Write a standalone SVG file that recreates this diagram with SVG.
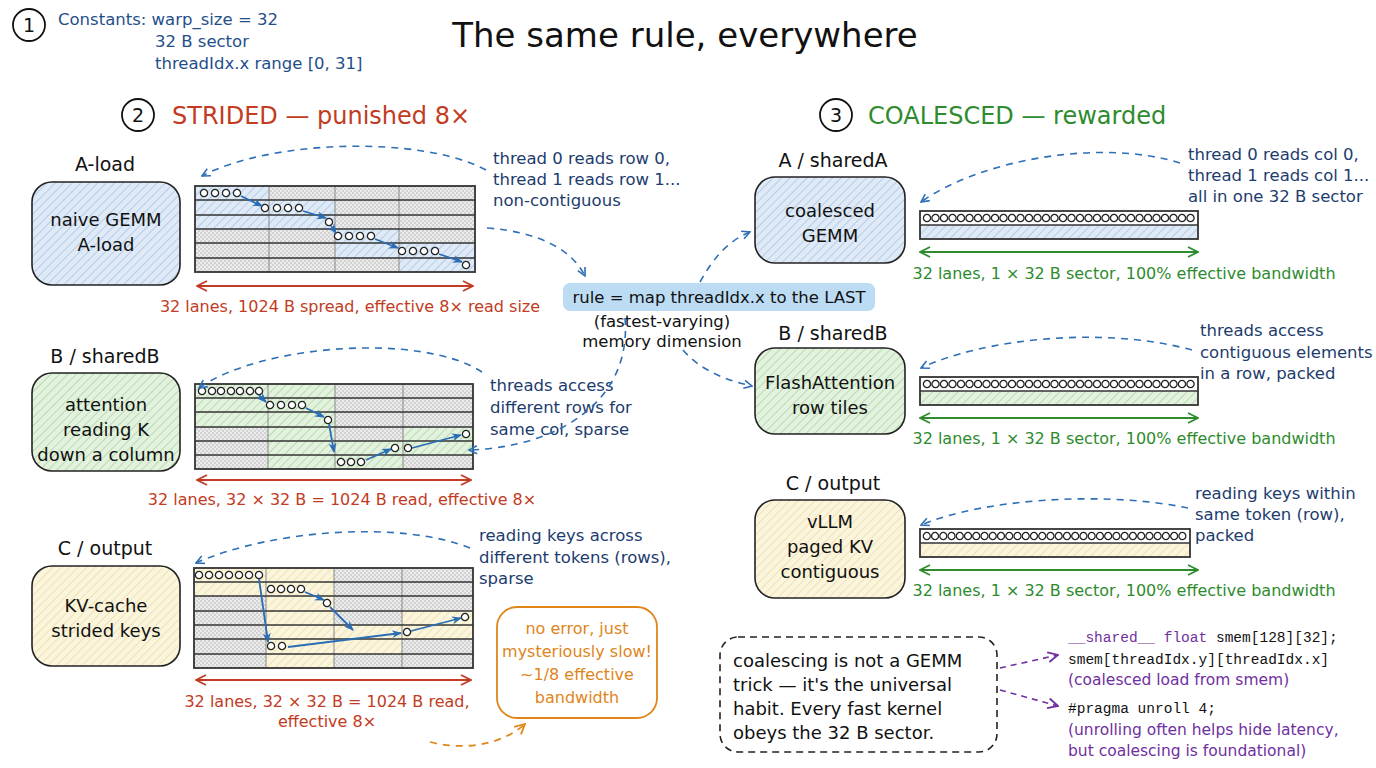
<svg xmlns="http://www.w3.org/2000/svg" width="1376" height="768" viewBox="0 0 1376 768">
<defs>
<style>
text{font-family:"DejaVu Sans","Liberation Sans",sans-serif;}
.title{font-size:34px;fill:#111;}
.ann{font-size:16.5px;fill:#1d3c6e;}
.const{font-size:16.5px;fill:#1f4f8a;}
.red{font-size:16px;fill:#c23b22;}
.grn{font-size:16px;fill:#2e8b2e;}
.lbl{font-size:19px;fill:#111;}
.ntx{font-size:18px;fill:#111;text-anchor:middle;}
.head{font-size:24px;}
.mono{font-family:"Liberation Mono","DejaVu Sans Mono",monospace;font-size:14.5px;fill:#111;}
.pur{fill:#7030a0;}
.pt{font-size:15.5px;fill:#7030a0;}
.node{stroke:#222;stroke-width:1.6;}
.rowl{stroke:#333;stroke-width:1.6;}
.coll{stroke:#888;stroke-width:1;}
.dash{fill:none;stroke:#2f6fb5;stroke-width:1.6;stroke-dasharray:7 6;marker-end:url(#open);}
.garr{fill:none;stroke:#2a6db5;stroke-width:1.8;marker-end:url(#fill);}
.circ{fill:#fff;stroke:#222;stroke-width:1.3;}
</style>
<pattern id="hB" patternUnits="userSpaceOnUse" width="6" height="6" patternTransform="rotate(45)">
<rect width="6" height="6" fill="#dfeaf6"/><line x1="0" y1="0" x2="0" y2="6" stroke="#a9c6e6" stroke-width="1.6"/>
</pattern>
<pattern id="hG" patternUnits="userSpaceOnUse" width="6" height="6" patternTransform="rotate(45)">
<rect width="6" height="6" fill="#e3f2de"/><line x1="0" y1="0" x2="0" y2="6" stroke="#aed6a4" stroke-width="1.6"/>
</pattern>
<pattern id="hY" patternUnits="userSpaceOnUse" width="6" height="6" patternTransform="rotate(45)">
<rect width="6" height="6" fill="#fbf5dd"/><line x1="0" y1="0" x2="0" y2="6" stroke="#eadfa8" stroke-width="1.6"/>
</pattern>
<pattern id="chk" patternUnits="userSpaceOnUse" width="4" height="4">
<rect width="4" height="4" fill="#ececec"/><rect width="2" height="2" fill="#d2d2d2"/><rect x="2" y="2" width="2" height="2" fill="#d2d2d2"/>
</pattern>
<marker id="open" viewBox="0 0 10 10" refX="9" refY="5" markerWidth="10" markerHeight="10" orient="auto" markerUnits="userSpaceOnUse">
<path d="M1,1 L9,5 L1,9" fill="none" stroke="#2f6fb5" stroke-width="1.6"/>
</marker>
<marker id="fill" viewBox="0 0 10 10" refX="9" refY="5" markerWidth="10" markerHeight="10" orient="auto" markerUnits="userSpaceOnUse">
<path d="M0,1 L10,5 L0,9 L3,5 z" fill="#2a6db5"/>
</marker>
<marker id="redA" viewBox="0 0 12 12" refX="11" refY="6" markerWidth="12" markerHeight="12" orient="auto-start-reverse" markerUnits="userSpaceOnUse">
<path d="M1,1 L11,6 L1,11" fill="none" stroke="#c23b22" stroke-width="1.8"/>
</marker>
<marker id="grnA" viewBox="0 0 12 12" refX="11" refY="6" markerWidth="12" markerHeight="12" orient="auto-start-reverse" markerUnits="userSpaceOnUse">
<path d="M1,1 L11,6 L1,11" fill="none" stroke="#2e8b2e" stroke-width="1.8"/>
</marker>
<marker id="orA" viewBox="0 0 12 12" refX="11" refY="6" markerWidth="12" markerHeight="12" orient="auto" markerUnits="userSpaceOnUse">
<path d="M1,1 L11,6 L1,11" fill="none" stroke="#e0851a" stroke-width="1.8"/>
</marker>
<marker id="puA" viewBox="0 0 12 12" refX="11" refY="6" markerWidth="12" markerHeight="12" orient="auto" markerUnits="userSpaceOnUse">
<path d="M1,1 L11,6 L1,11" fill="none" stroke="#7030a0" stroke-width="1.8"/>
</marker>
<circle id="c" r="3.6" class="circ"/>
</defs>
<rect width="1376" height="768" fill="#ffffff"/>

<!-- Header -->
<g id="header">
<circle cx="29" cy="25" r="16" fill="none" stroke="#111" stroke-width="1.8"/>
<text x="29" y="32" font-size="19" text-anchor="middle" fill="#111">1</text>
<text class="const" x="58" y="25">Constants: warp_size = 32</text>
<text class="const" x="155" y="47">32 B sector</text>
<text class="const" x="155" y="69">threadIdx.x range [0, 31]</text>
<text class="title" x="685" y="47" text-anchor="middle">The same rule, everywhere</text>
</g>

<g id="sec2">
<circle cx="138" cy="115" r="16" fill="none" stroke="#111" stroke-width="1.8"/>
<text x="138" y="122" font-size="19" text-anchor="middle" fill="#111">2</text>
<text class="head" x="172" y="124" fill="#c23b22">STRIDED — punished 8×</text>
</g>
<g id="sec3">
<circle cx="836" cy="115" r="16" fill="none" stroke="#111" stroke-width="1.8"/>
<text x="836" y="122" font-size="19" text-anchor="middle" fill="#111">3</text>
<text class="head" x="868" y="124" fill="#2e8b2e">COALESCED — rewarded</text>
</g>

<!-- Left nodes -->
<g id="nodeA-load">
<text class="lbl" x="105" y="171" text-anchor="middle">A-load</text>
<rect class="node" x="32" y="182" width="148" height="103" rx="20" fill="url(#hB)"/>
<text class="ntx" x="106" y="226">naive GEMM</text>
<text class="ntx" x="106" y="251">A-load</text>
</g>
<g id="nodeB-attn">
<text class="lbl" x="105" y="363" text-anchor="middle">B / sharedB</text>
<rect class="node" x="32" y="373" width="148" height="98" rx="20" fill="url(#hG)"/>
<text class="ntx" x="106" y="411">attention</text>
<text class="ntx" x="106" y="436">reading K</text>
<text class="ntx" x="106" y="461">down a column</text>
</g>
<g id="nodeC-kv">
<text class="lbl" x="105" y="555" text-anchor="middle">C / output</text>
<rect class="node" x="32" y="566" width="148" height="100" rx="20" fill="url(#hY)"/>
<text class="ntx" x="106" y="612">KV-cache</text>
<text class="ntx" x="106" y="637">strided keys</text>
</g>

<!-- Grid A -->
<g id="gridA">
<rect x="195" y="186" width="74" height="14" fill="url(#hB)"/>
<rect x="269" y="186" width="206" height="14" fill="url(#chk)"/>
<rect x="195" y="200" width="140" height="29" fill="url(#hB)"/>
<rect x="335" y="200" width="140" height="29" fill="url(#chk)"/>
<rect x="195" y="229" width="140" height="43" fill="url(#chk)"/>
<rect x="335" y="229" width="64" height="14" fill="url(#hB)"/>
<rect x="399" y="229" width="76" height="14" fill="url(#chk)"/>
<rect x="335" y="243" width="140" height="15" fill="url(#hB)"/>
<rect x="335" y="258" width="64" height="14" fill="url(#chk)"/>
<rect x="399" y="258" width="76" height="14" fill="url(#hB)"/>
<g class="coll"><line x1="269" y1="186" x2="269" y2="272"/><line x1="335" y1="186" x2="335" y2="272"/><line x1="399" y1="186" x2="399" y2="272"/></g>
<g class="rowl"><line x1="195" y1="200" x2="475" y2="200"/><line x1="195" y1="215" x2="475" y2="215"/><line x1="195" y1="229" x2="475" y2="229"/><line x1="195" y1="243" x2="475" y2="243"/><line x1="195" y1="258" x2="475" y2="258"/></g>
<rect x="195" y="186" width="280" height="86" fill="none" stroke="#333" stroke-width="1.8"/>
<use href="#c" x="204" y="193"/><use href="#c" x="215" y="193"/><use href="#c" x="226" y="193"/><use href="#c" x="237" y="193"/>
<use href="#c" x="265" y="208"/><use href="#c" x="277" y="208"/><use href="#c" x="288" y="208"/><use href="#c" x="299" y="208"/>
<use href="#c" x="329" y="222"/>
<use href="#c" x="338" y="236"/><use href="#c" x="349" y="236"/><use href="#c" x="360" y="236"/><use href="#c" x="371" y="236"/>
<use href="#c" x="402" y="251"/><use href="#c" x="413" y="251"/><use href="#c" x="424" y="251"/><use href="#c" x="435" y="251"/>
<use href="#c" x="466" y="265"/>
</g>
<g id="gridB">
<rect x="195" y="384" width="140" height="43" fill="url(#hG)"/>
<rect x="335" y="384" width="138" height="43" fill="url(#chk)"/>
<rect x="195" y="427" width="73" height="42" fill="url(#chk)"/>
<rect x="268" y="427" width="67" height="42" fill="url(#hG)"/>
<rect x="335" y="427" width="68" height="14" fill="url(#chk)"/>
<rect x="403" y="427" width="70" height="14" fill="url(#hG)"/>
<rect x="335" y="441" width="138" height="14" fill="url(#hG)"/>
<rect x="335" y="455" width="68" height="14" fill="url(#hG)"/>
<rect x="403" y="455" width="70" height="14" fill="url(#chk)"/>
<g class="coll"><line x1="268" y1="384" x2="268" y2="469"/><line x1="335" y1="384" x2="335" y2="469"/><line x1="403" y1="384" x2="403" y2="469"/></g>
<g class="rowl"><line x1="195" y1="398" x2="473" y2="398"/><line x1="195" y1="412" x2="473" y2="412"/><line x1="195" y1="427" x2="473" y2="427"/><line x1="195" y1="441" x2="473" y2="441"/><line x1="195" y1="455" x2="473" y2="455"/></g>
<rect x="195" y="384" width="278" height="85" fill="none" stroke="#333" stroke-width="1.8"/>
<use href="#c" x="202" y="391"/><use href="#c" x="212" y="391"/><use href="#c" x="221" y="391"/><use href="#c" x="231" y="391"/><use href="#c" x="240" y="391"/><use href="#c" x="250" y="391"/><use href="#c" x="259" y="391"/>
<use href="#c" x="270" y="405"/><use href="#c" x="281" y="405"/><use href="#c" x="292" y="405"/><use href="#c" x="302" y="405"/>
<use href="#c" x="328" y="420"/>
<use href="#c" x="466" y="434"/>
<use href="#c" x="395" y="448"/><use href="#c" x="408" y="448"/>
<use href="#c" x="341" y="462"/><use href="#c" x="351" y="462"/><use href="#c" x="361" y="462"/>
</g>
<g id="gridC">
<rect x="194" y="568" width="140" height="28" fill="url(#hY)"/>
<rect x="334" y="568" width="139" height="100" fill="url(#chk)"/>
<rect x="194" y="596" width="72" height="72" fill="url(#chk)"/>
<rect x="266" y="596" width="68" height="72" fill="url(#hY)"/>
<rect x="402" y="611" width="71" height="14" fill="url(#hY)"/>
<rect x="334" y="625" width="139" height="14" fill="url(#hY)"/>
<rect x="334" y="639" width="68" height="15" fill="url(#hY)"/>
<g class="coll"><line x1="266" y1="568" x2="266" y2="668"/><line x1="334" y1="568" x2="334" y2="668"/><line x1="402" y1="568" x2="402" y2="668"/></g>
<g class="rowl"><line x1="194" y1="582" x2="473" y2="582"/><line x1="194" y1="596" x2="473" y2="596"/><line x1="194" y1="611" x2="473" y2="611"/><line x1="194" y1="625" x2="473" y2="625"/><line x1="194" y1="639" x2="473" y2="639"/><line x1="194" y1="654" x2="473" y2="654"/></g>
<rect x="194" y="568" width="279" height="100" fill="none" stroke="#333" stroke-width="1.8"/>
<use href="#c" x="199" y="575"/><use href="#c" x="209" y="575"/><use href="#c" x="219" y="575"/><use href="#c" x="229" y="575"/><use href="#c" x="239" y="575"/><use href="#c" x="249" y="575"/><use href="#c" x="259" y="575"/>
<use href="#c" x="271" y="589"/><use href="#c" x="281" y="589"/><use href="#c" x="291" y="589"/><use href="#c" x="301" y="589"/>
<use href="#c" x="327" y="603"/>
<use href="#c" x="465" y="617"/>
<use href="#c" x="407" y="632"/>
<use href="#c" x="271" y="646"/><use href="#c" x="282" y="646"/>
</g>

<!-- Right nodes -->
<g id="nodeA-shared">
<text class="lbl" x="833" y="167" text-anchor="middle">A / sharedA</text>
<rect class="node" x="755" y="177" width="150" height="86" rx="20" fill="url(#hB)"/>
<text class="ntx" x="830" y="217">coalesced</text>
<text class="ntx" x="830" y="242">GEMM</text>
</g>
<g id="nodeB-flash">
<text class="lbl" x="833" y="340" text-anchor="middle">B / sharedB</text>
<rect class="node" x="755" y="348" width="150" height="86" rx="20" fill="url(#hG)"/>
<text class="ntx" x="830" y="389">FlashAttention</text>
<text class="ntx" x="830" y="414">row tiles</text>
</g>
<g id="nodeC-vllm">
<text class="lbl" x="833" y="490" text-anchor="middle">C / output</text>
<rect class="node" x="755" y="500" width="150" height="98" rx="20" fill="url(#hY)"/>
<text class="ntx" x="830" y="528">vLLM</text>
<text class="ntx" x="830" y="553">paged KV</text>
<text class="ntx" x="830" y="578">contiguous</text>
</g>

<!-- Strips -->
<g id="stripA">
<rect x="920" y="211" width="278" height="14" fill="#fff"/>
<rect x="920" y="225" width="278" height="14" fill="url(#hB)"/>
<line class="rowl" x1="920" y1="225" x2="1198" y2="225"/>
<rect x="920" y="211" width="278" height="28" fill="none" stroke="#333" stroke-width="1.8"/>
<g id="row32">
<use href="#c" x="927" y="218"/><use href="#c" x="935.5" y="218"/><use href="#c" x="944" y="218"/><use href="#c" x="952.5" y="218"/><use href="#c" x="961" y="218"/><use href="#c" x="969.5" y="218"/><use href="#c" x="978" y="218"/><use href="#c" x="986.5" y="218"/>
<use href="#c" x="995" y="218"/><use href="#c" x="1003.5" y="218"/><use href="#c" x="1012" y="218"/><use href="#c" x="1020.5" y="218"/><use href="#c" x="1029" y="218"/><use href="#c" x="1037.5" y="218"/><use href="#c" x="1046" y="218"/><use href="#c" x="1054.5" y="218"/>
<use href="#c" x="1063" y="218"/><use href="#c" x="1071.5" y="218"/><use href="#c" x="1080" y="218"/><use href="#c" x="1088.5" y="218"/><use href="#c" x="1097" y="218"/><use href="#c" x="1105.5" y="218"/><use href="#c" x="1114" y="218"/><use href="#c" x="1122.5" y="218"/>
<use href="#c" x="1131" y="218"/><use href="#c" x="1139.5" y="218"/><use href="#c" x="1148" y="218"/><use href="#c" x="1156.5" y="218"/><use href="#c" x="1165" y="218"/><use href="#c" x="1173.5" y="218"/><use href="#c" x="1182" y="218"/><use href="#c" x="1190.5" y="218"/>
</g>
<line x1="920" y1="252" x2="1198" y2="252" stroke="#2e8b2e" stroke-width="1.8" marker-start="url(#grnA)" marker-end="url(#grnA)"/>
<text class="grn" x="1124" y="279" text-anchor="middle">32 lanes, 1 × 32 B sector, 100% effective bandwidth</text>
</g>
<g id="stripB">
<rect x="920" y="377" width="278" height="14" fill="#fff"/>
<rect x="920" y="391" width="278" height="14" fill="url(#hG)"/>
<line class="rowl" x1="920" y1="391" x2="1198" y2="391"/>
<rect x="920" y="377" width="278" height="28" fill="none" stroke="#333" stroke-width="1.8"/>
<use href="#row32" y="166"/>
<line x1="920" y1="418" x2="1198" y2="418" stroke="#2e8b2e" stroke-width="1.8" marker-start="url(#grnA)" marker-end="url(#grnA)"/>
<text class="grn" x="1124" y="444" text-anchor="middle">32 lanes, 1 × 32 B sector, 100% effective bandwidth</text>
</g>
<g id="stripC">
<rect x="920" y="529" width="270" height="14" fill="#fff"/>
<rect x="920" y="543" width="270" height="14" fill="url(#hY)"/>
<line class="rowl" x1="920" y1="543" x2="1190" y2="543"/>
<rect x="920" y="529" width="270" height="28" fill="none" stroke="#333" stroke-width="1.8"/>
<g transform="translate(920 0) scale(0.97 1) translate(-920 0)"><use href="#row32" y="318"/></g>
<line x1="920" y1="570" x2="1198" y2="570" stroke="#2e8b2e" stroke-width="1.8" marker-start="url(#grnA)" marker-end="url(#grnA)"/>
<text class="grn" x="1124" y="596" text-anchor="middle">32 lanes, 1 × 32 B sector, 100% effective bandwidth</text>
</g>

<!-- Rule box -->
<g id="rule">
<rect x="563" y="283" width="312" height="28" rx="7" fill="#bcdcf4"/>
<text x="719" y="303" font-size="16.5" text-anchor="middle" fill="#111">rule = map threadIdx.x to the LAST</text>
<text x="662" y="327" font-size="16.5" text-anchor="middle" fill="#111">(fastest-varying)</text>
<text x="662" y="347" font-size="16.5" text-anchor="middle" fill="#111">memory dimension</text>
</g>

<!-- Orange note -->
<g id="note">
<rect x="497" y="607" width="160" height="111" rx="20" fill="#fff" stroke="#e0851a" stroke-width="1.8"/>
<text x="577" y="634" font-size="16" text-anchor="middle" fill="#e0851a">no error, just</text>
<text x="577" y="657" font-size="16" text-anchor="middle" fill="#e0851a">mysteriously slow!</text>
<text x="577" y="680" font-size="16" text-anchor="middle" fill="#e0851a">~1/8 effective</text>
<text x="577" y="703" font-size="16" text-anchor="middle" fill="#e0851a">bandwidth</text>
</g>

<!-- Dashed takeaway -->
<g id="takeaway">
<rect x="720" y="637" width="277" height="115" rx="18" fill="#fff" stroke="#222" stroke-width="1.6" stroke-dasharray="7 5"/>
<text x="733" y="667" font-size="18" fill="#111">coalescing is not a GEMM</text>
<text x="733" y="691" font-size="18" fill="#111">trick — it's the universal</text>
<text x="733" y="715" font-size="18" fill="#111">habit. Every fast kernel</text>
<text x="733" y="739" font-size="18" fill="#111">obeys the 32 B sector.</text>
</g>

<!-- Code -->
<g id="code">
<text class="mono" x="1068" y="642"><tspan class="pur">__shared__ float</tspan> smem[128][32];</text>
<text class="mono" x="1068" y="664">smem[threadIdx.y][threadIdx.x]</text>
<text class="pt" x="1068" y="685">(coalesced load from smem)</text>
<text class="mono" x="1068" y="713">#pragma unroll 4;</text>
<text class="pt" x="1068" y="735">(unrolling often helps hide latency,</text>
<text class="pt" x="1068" y="756">but coalescing is foundational)</text>
</g>

<!-- Annotations -->
<g id="annotations">
<text class="ann" x="493" y="164">thread 0 reads row 0,</text>
<text class="ann" x="493" y="185">thread 1 reads row 1...</text>
<text class="ann" x="493" y="206">non-contiguous</text>
<text class="ann" x="490" y="391">threads access</text>
<text class="ann" x="490" y="413">different rows for</text>
<text class="ann" x="490" y="435">same col, sparse</text>
<text class="ann" x="479" y="541">reading keys across</text>
<text class="ann" x="479" y="563">different tokens (rows),</text>
<text class="ann" x="479" y="584">sparse</text>
<text class="ann" x="1188" y="160">thread 0 reads col 0,</text>
<text class="ann" x="1188" y="181">thread 1 reads col 1...</text>
<text class="ann" x="1188" y="202">all in one 32 B sector</text>
<text class="ann" x="1200" y="336">threads access</text>
<text class="ann" x="1200" y="358">contiguous elements</text>
<text class="ann" x="1200" y="379">in a row, packed</text>
<text class="ann" x="1195" y="499">reading keys within</text>
<text class="ann" x="1195" y="520">same token (row),</text>
<text class="ann" x="1195" y="541">packed</text>
<text class="red" x="350" y="312" text-anchor="middle">32 lanes, 1024 B spread, effective 8× read size</text>
<text class="red" x="342" y="505" text-anchor="middle">32 lanes, 32 × 32 B = 1024 B read, effective 8×</text>
<text class="red" x="327" y="707" text-anchor="middle">32 lanes, 32 × 32 B = 1024 B read,</text>
<text class="red" x="327" y="727" text-anchor="middle">effective 8×</text>
</g>

<!-- Connectors -->
<g id="connectors">
<path class="garr" d="M241,196 L262,206"/>
<path class="garr" d="M303,211 L326,218"/>
<path class="garr" d="M331,226 L336,233"/>
<path class="garr" d="M375,239 L398,248"/>
<path class="garr" d="M439,254 L462,262"/>
<path class="garr" d="M259,395 L266,402"/>
<path class="garr" d="M306,408 L324,417"/>
<path class="garr" d="M329,424 L334,452"/>
<path class="garr" d="M366,460 L391,449"/>
<path class="garr" d="M412,448 L461,435"/>
<path class="garr" d="M259,579 L268,642"/>
<path class="garr" d="M305,592 L324,600"/>
<path class="garr" d="M330,607 L353,630"/>
<path class="garr" d="M288,647 L401,633"/>
<path class="garr" d="M411,631 L461,618"/>
<line x1="197" y1="286" x2="473" y2="286" stroke="#c23b22" stroke-width="1.8" marker-start="url(#redA)" marker-end="url(#redA)"/>
<line x1="197" y1="480" x2="471" y2="480" stroke="#c23b22" stroke-width="1.8" marker-start="url(#redA)" marker-end="url(#redA)"/>
<line x1="196" y1="680" x2="471" y2="680" stroke="#c23b22" stroke-width="1.8" marker-start="url(#redA)" marker-end="url(#redA)"/>
<path class="dash" d="M486,170 C420,135 270,140 202,176"/>
<path class="dash" d="M487,228 C540,232 572,250 585,276"/>
<path class="dash" d="M482,372 C420,332 260,345 199,388"/>
<path class="dash" d="M625,318 C632,400 560,447 469,450"/>
<path class="dash" d="M470,548 C400,520 270,530 196,563"/>
<path class="dash" d="M700,282 C715,255 730,240 750,232"/>
<path class="dash" d="M683,350 C700,370 725,380 752,386"/>
<path class="dash" d="M1180,163 C1100,138 980,160 921,202"/>
<path class="dash" d="M1192,350 C1100,325 980,340 921,368"/>
<path class="dash" d="M1188,508 C1100,490 980,500 921,525"/>
<path d="M430,742 C470,752 505,742 525,724" fill="none" stroke="#e0851a" stroke-width="1.8" stroke-dasharray="7 6" marker-end="url(#orA)"/>
<path d="M1000,668 L1058,655" fill="none" stroke="#7030a0" stroke-width="1.6" stroke-dasharray="6 5" marker-end="url(#puA)"/>
<path d="M1000,690 L1058,706" fill="none" stroke="#7030a0" stroke-width="1.6" stroke-dasharray="6 5" marker-end="url(#puA)"/>
</g>
</svg>
